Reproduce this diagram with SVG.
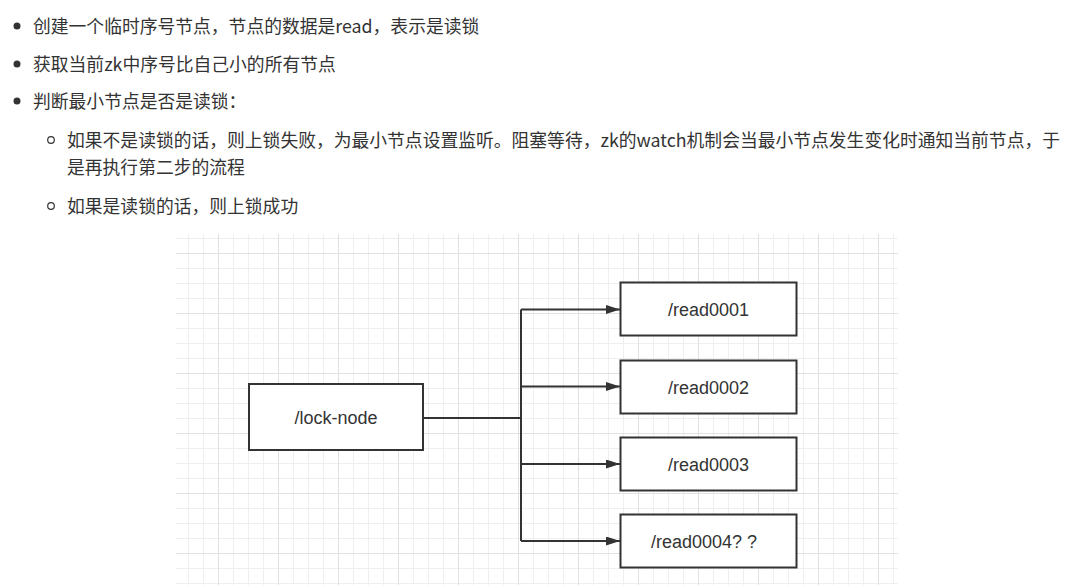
<svg xmlns="http://www.w3.org/2000/svg" width="1071" height="585" viewBox="0 0 1071 585">
  <style>
    .t { font-family: "Noto Sans CJK SC", "Noto Sans", sans-serif; font-size: 17.8px; fill: #333333; }
    .lbl { font-family: "Liberation Sans", Arial, sans-serif; font-size: 18px; fill: #333333; text-anchor: middle; }
    .box { fill: #ffffff; stroke: #333333; stroke-width: 2; }
    .conn { fill: none; stroke: #333333; stroke-width: 2; }
    .dot { fill: #333333; }
    .ring { fill: none; stroke: #333333; stroke-width: 1.2; }
  </style>
  <defs>
    <pattern id="grid" patternUnits="userSpaceOnUse" x="218" y="253" width="60" height="60">
      <path d="M15.5,0 V60 M30.5,0 V60 M45.5,0 V60 M0,15.5 H60 M0,30.5 H60 M0,45.5 H60" stroke="#efefef" stroke-width="1" fill="none"/>
      <path d="M0.5,0 V60 M0,0.5 H60" stroke="#e1e1e1" stroke-width="1" fill="none"/>
    </pattern>
    <marker id="arrow" markerUnits="userSpaceOnUse" markerWidth="14" markerHeight="9" refX="14" refY="4.5" orient="auto">
      <path d="M0,0 L14,4.5 L0,9 z" fill="#333333"/>
    </marker>
  </defs>
  <rect width="1071" height="585" fill="#ffffff"/>

  <g id="text">
    <circle class="dot" cx="17" cy="26" r="3.5"/>
    <text class="t" x="33" y="33">创建一个临时序号节点，节点的数据是read，表示是读锁</text>
    <circle class="dot" cx="17" cy="64" r="3.5"/>
    <text class="t" x="33" y="71">获取当前zk中序号比自己小的所有节点</text>
    <circle class="dot" cx="17" cy="101" r="3.5"/>
    <text class="t" x="33" y="108">判断最小节点是否是读锁：</text>
    <circle class="ring" cx="51" cy="140" r="3.3"/>
    <text class="t" x="67" y="147">如果不是读锁的话，则上锁失败，为最小节点设置监听。阻塞等待，zk的watch机制会当最小节点发生变化时通知当前节点，于</text>
    <text class="t" x="67" y="174">是再执行第二步的流程</text>
    <circle class="ring" cx="51" cy="206" r="3.3"/>
    <text class="t" x="67" y="213">如果是读锁的话，则上锁成功</text>
  </g>

  <rect id="canvas-grid" x="176" y="234" width="722" height="351" fill="url(#grid)"/>

  <g id="connectors">
    <path class="conn" d="M423,418 H521"/>
    <path class="conn" d="M521,309.5 V541"/>
    <path class="conn" d="M521,309.5 H620" marker-end="url(#arrow)"/>
    <path class="conn" d="M521,386.5 H620" marker-end="url(#arrow)"/>
    <path class="conn" d="M521,464 H620" marker-end="url(#arrow)"/>
    <path class="conn" d="M521,541 H620" marker-end="url(#arrow)"/>
  </g>

  <g id="lock-node">
    <rect class="box" x="249" y="384" width="174" height="66"/>
    <text class="lbl" x="336" y="423.5">/lock-node</text>
  </g>
  <g id="read0001">
    <rect class="box" x="620.5" y="282.5" width="176" height="53"/>
    <text class="lbl" x="708.5" y="316">/read0001</text>
  </g>
  <g id="read0002">
    <rect class="box" x="620.5" y="360.5" width="176" height="53"/>
    <text class="lbl" x="708.5" y="393.5">/read0002</text>
  </g>
  <g id="read0003">
    <rect class="box" x="620.5" y="437.5" width="176" height="53"/>
    <text class="lbl" x="708.5" y="471">/read0003</text>
  </g>
  <g id="read0004">
    <rect class="box" x="620.5" y="514.5" width="176" height="53"/>
    <text class="lbl" x="704" y="548">/read0004? ?</text>
  </g>
</svg>
